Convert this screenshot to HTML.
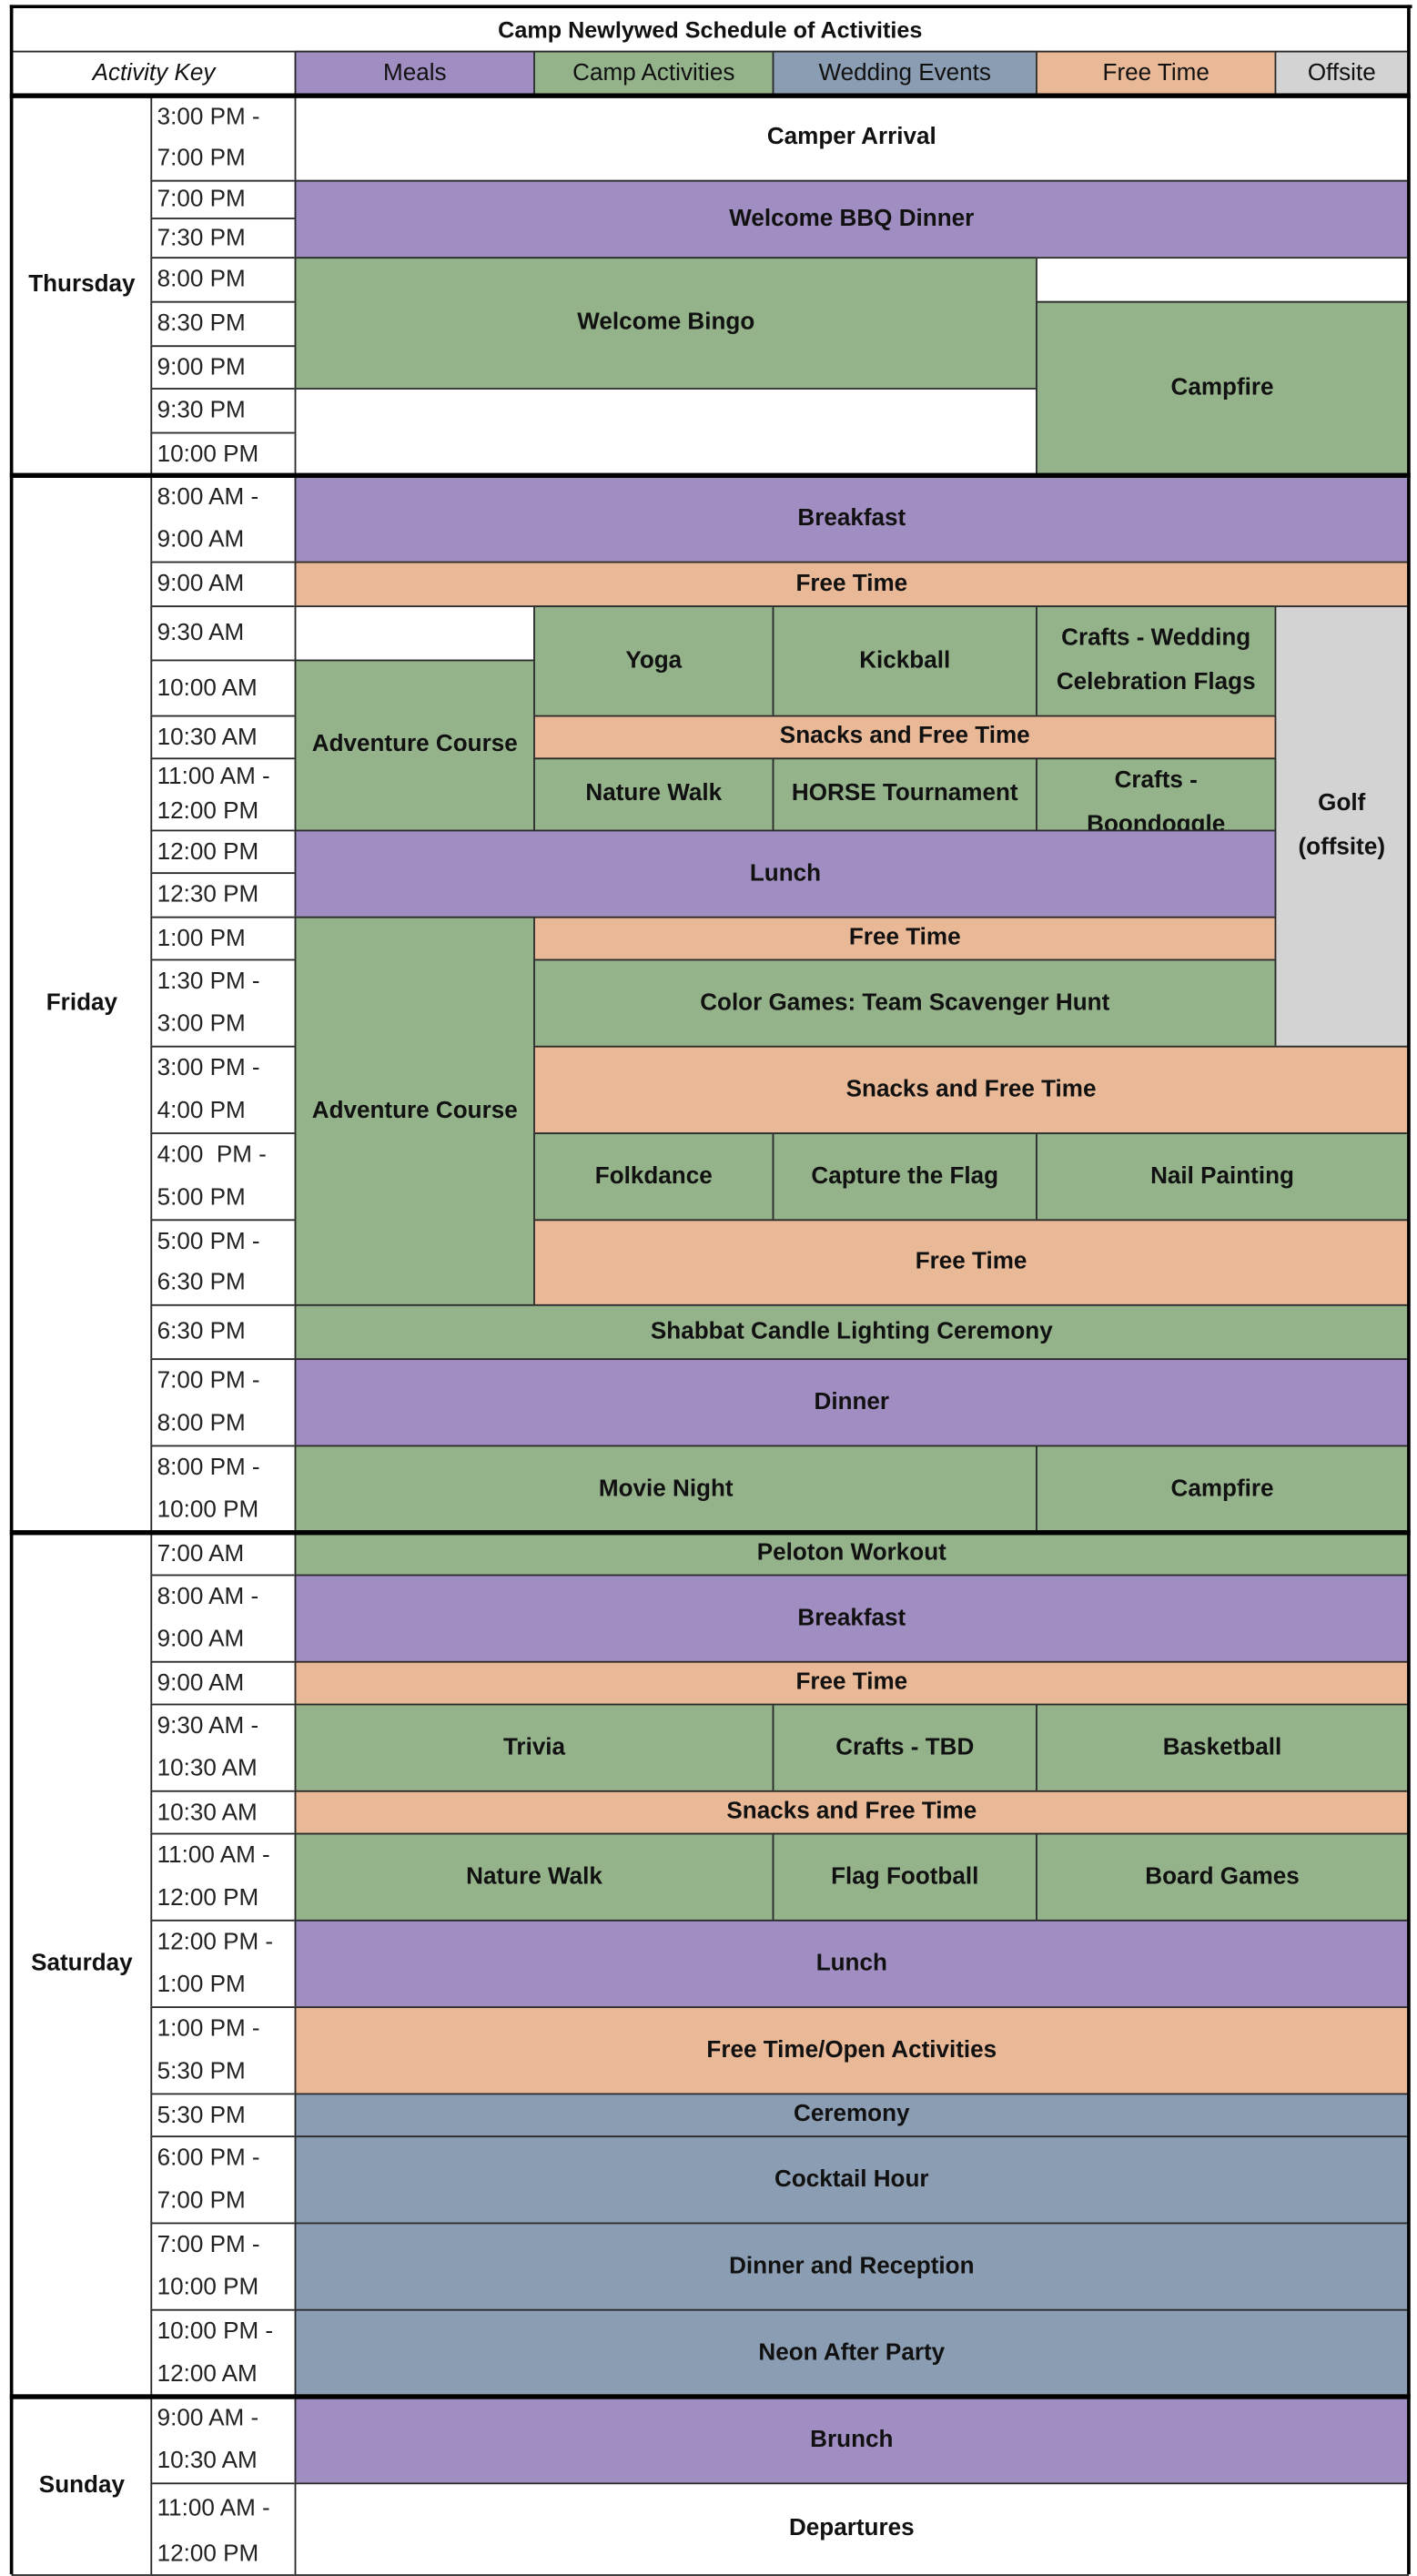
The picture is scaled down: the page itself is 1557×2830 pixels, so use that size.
<!DOCTYPE html>
<html><head><meta charset="utf-8"><style>
html,body{margin:0;padding:0;background:#fff;}
body{width:1557px;height:2812px;overflow:hidden;position:relative;}
#s{position:absolute;left:0;top:0;width:866px;height:1570px;transform:scale(1.7979);transform-origin:0 0;font-family:"Liberation Sans",sans-serif;color:#111;}
.c{position:absolute;box-sizing:border-box;border:1px solid #2a2a2a;display:flex;align-items:center;justify-content:center;text-align:center;font-size:14.5px;font-weight:bold;line-height:27px;overflow:hidden;}
.t{position:absolute;box-sizing:border-box;border:1px solid #2a2a2a;font-size:14.5px;font-weight:normal;color:#222;padding-left:3px;display:flex;flex-direction:column;justify-content:space-around;overflow:hidden;line-height:18px;background:#fff;}
.P{background:#a08ec2}.G{background:#94b38a}.B{background:#8b9db2}.O{background:#e9b896}.Y{background:#d3d3d3}.W{background:#fff}
.k{position:absolute;background:#000;}
</style></head><body><div id="s">
<!-- title/header -->
<div class="c W" style="left:7px;top:4px;width:854px;height:28px;font-weight:bold;font-size:14px">Camp Newlywed Schedule of Activities</div>
<div class="c W" style="left:7px;top:31px;width:174px;height:28px;font-style:italic;font-weight:normal">Activity Key</div>
<div class="c P" style="left:180px;top:31px;width:147px;height:28px;font-weight:normal">Meals</div>
<div class="c G" style="left:326px;top:31px;width:147px;height:28px;font-weight:normal">Camp Activities</div>
<div class="c B" style="left:472px;top:31px;width:162px;height:28px;font-weight:normal">Wedding Events</div>
<div class="c O" style="left:633px;top:31px;width:147px;height:28px;font-weight:normal">Free Time</div>
<div class="c Y" style="left:779px;top:31px;width:82px;height:28px;font-weight:normal">Offsite</div>
<!-- day cells -->
<div class="c W" style="left:7px;top:58px;width:86px;height:233px">Thursday</div>
<div class="c W" style="left:7px;top:290px;width:86px;height:647px">Friday</div>
<div class="c W" style="left:7px;top:936px;width:86px;height:529px">Saturday</div>
<div class="c W" style="left:7px;top:1464px;width:86px;height:110px">Sunday</div>
<!-- times -->
<div class="t" style="left:92px;top:58px;width:89px;height:53px"><span>3:00 PM -</span><span>7:00 PM</span></div>
<div class="t" style="left:92px;top:110px;width:89px;height:24px"><span>7:00 PM</span></div>
<div class="t" style="left:92px;top:133px;width:89px;height:25px"><span>7:30 PM</span></div>
<div class="t" style="left:92px;top:157px;width:89px;height:28px"><span>8:00 PM</span></div>
<div class="t" style="left:92px;top:184px;width:89px;height:28px"><span>8:30 PM</span></div>
<div class="t" style="left:92px;top:211px;width:89px;height:27px"><span>9:00 PM</span></div>
<div class="t" style="left:92px;top:237px;width:89px;height:28px"><span>9:30 PM</span></div>
<div class="t" style="left:92px;top:264px;width:89px;height:27px"><span>10:00 PM</span></div>
<div class="t" style="left:92px;top:290px;width:89px;height:54px"><span>8:00 AM -</span><span>9:00 AM</span></div>
<div class="t" style="left:92px;top:343px;width:89px;height:28px"><span>9:00 AM</span></div>
<div class="t" style="left:92px;top:370px;width:89px;height:34px"><span>9:30 AM</span></div>
<div class="t" style="left:92px;top:403px;width:89px;height:35px"><span>10:00 AM</span></div>
<div class="t" style="left:92px;top:437px;width:89px;height:27px"><span>10:30 AM</span></div>
<div class="t" style="left:92px;top:463px;width:89px;height:45px"><span>11:00 AM -</span><span>12:00 PM</span></div>
<div class="t" style="left:92px;top:507px;width:89px;height:27px"><span>12:00 PM</span></div>
<div class="t" style="left:92px;top:533px;width:89px;height:28px"><span>12:30 PM</span></div>
<div class="t" style="left:92px;top:560px;width:89px;height:27px"><span>1:00 PM</span></div>
<div class="t" style="left:92px;top:586px;width:89px;height:54px"><span>1:30 PM -</span><span>3:00 PM</span></div>
<div class="t" style="left:92px;top:639px;width:89px;height:54px"><span>3:00 PM -</span><span>4:00 PM</span></div>
<div class="t" style="left:92px;top:692px;width:89px;height:54px"><span>4:00&nbsp; PM -</span><span>5:00 PM</span></div>
<div class="t" style="left:92px;top:745px;width:89px;height:53px"><span>5:00 PM -</span><span>6:30 PM</span></div>
<div class="t" style="left:92px;top:797px;width:89px;height:34px"><span>6:30 PM</span></div>
<div class="t" style="left:92px;top:830px;width:89px;height:54px"><span>7:00 PM -</span><span>8:00 PM</span></div>
<div class="t" style="left:92px;top:883px;width:89px;height:54px"><span>8:00 PM -</span><span>10:00 PM</span></div>
<div class="t" style="left:92px;top:936px;width:89px;height:27px"><span>7:00 AM</span></div>
<div class="t" style="left:92px;top:962px;width:89px;height:54px"><span>8:00 AM -</span><span>9:00 AM</span></div>
<div class="t" style="left:92px;top:1015px;width:89px;height:27px"><span>9:00 AM</span></div>
<div class="t" style="left:92px;top:1041px;width:89px;height:54px"><span>9:30 AM -</span><span>10:30 AM</span></div>
<div class="t" style="left:92px;top:1094px;width:89px;height:27px"><span>10:30 AM</span></div>
<div class="t" style="left:92px;top:1120px;width:89px;height:54px"><span>11:00 AM -</span><span>12:00 PM</span></div>
<div class="t" style="left:92px;top:1173px;width:89px;height:54px"><span>12:00 PM -</span><span>1:00 PM</span></div>
<div class="t" style="left:92px;top:1226px;width:89px;height:54px"><span>1:00 PM -</span><span>5:30 PM</span></div>
<div class="t" style="left:92px;top:1279px;width:89px;height:27px"><span>5:30 PM</span></div>
<div class="t" style="left:92px;top:1305px;width:89px;height:54px"><span>6:00 PM -</span><span>7:00 PM</span></div>
<div class="t" style="left:92px;top:1358px;width:89px;height:54px"><span>7:00 PM -</span><span>10:00 PM</span></div>
<div class="t" style="left:92px;top:1411px;width:89px;height:54px"><span>10:00 PM -</span><span>12:00 AM</span></div>
<div class="t" style="left:92px;top:1464px;width:89px;height:54px"><span>9:00 AM -</span><span>10:30 AM</span></div>
<div class="t" style="left:92px;top:1517px;width:89px;height:57px;justify-content:flex-start;padding-top:6px;gap:10px"><span>11:00 AM -</span><span>12:00 PM</span></div>
<!-- Thursday events -->
<div class="c W" style="left:180px;top:58px;width:681px;height:53px">Camper Arrival</div>
<div class="c P" style="left:180px;top:110px;width:681px;height:48px">Welcome BBQ Dinner</div>
<div class="c G" style="left:180px;top:157px;width:454px;height:81px">Welcome Bingo</div>
<div class="c W" style="left:180px;top:237px;width:454px;height:54px"></div>
<div class="c W" style="left:633px;top:157px;width:228px;height:28px"></div>
<div class="c G" style="left:633px;top:184px;width:228px;height:107px">Campfire</div>
<!-- Friday -->
<div class="c P" style="left:180px;top:290px;width:681px;height:54px">Breakfast</div>
<div class="c O" style="left:180px;top:343px;width:681px;height:28px">Free Time</div>
<div class="c W" style="left:180px;top:370px;width:147px;height:34px"></div>
<div class="c G" style="left:180px;top:403px;width:147px;height:105px">Adventure Course</div>
<div class="c G" style="left:326px;top:370px;width:147px;height:68px">Yoga</div>
<div class="c G" style="left:472px;top:370px;width:162px;height:68px">Kickball</div>
<div class="c G" style="left:633px;top:370px;width:147px;height:68px">Crafts - Wedding<br>Celebration Flags</div>
<div class="c Y" style="left:779px;top:370px;width:82px;height:270px">Golf<br>(offsite)</div>
<div class="c O" style="left:326px;top:437px;width:454px;height:27px">Snacks and Free Time</div>
<div class="c G" style="left:326px;top:463px;width:147px;height:45px">Nature Walk</div>
<div class="c G" style="left:472px;top:463px;width:162px;height:45px">HORSE Tournament</div>
<div class="c G" style="left:633px;top:463px;width:147px;height:45px;align-items:flex-start;padding-top:0px">Crafts -<br>Boondoggle</div>
<div class="c P" style="left:180px;top:507px;width:600px;height:54px">Lunch</div>
<div class="c G" style="left:180px;top:560px;width:147px;height:238px">Adventure Course</div>
<div class="c O" style="left:326px;top:560px;width:454px;height:27px">Free Time</div>
<div class="c G" style="left:326px;top:586px;width:454px;height:54px">Color Games: Team Scavenger Hunt</div>
<div class="c O" style="left:326px;top:639px;width:535px;height:54px">Snacks and Free Time</div>
<div class="c G" style="left:326px;top:692px;width:147px;height:54px">Folkdance</div>
<div class="c G" style="left:472px;top:692px;width:162px;height:54px">Capture the Flag</div>
<div class="c G" style="left:633px;top:692px;width:228px;height:54px">Nail Painting</div>
<div class="c O" style="left:326px;top:745px;width:535px;height:53px">Free Time</div>
<div class="c G" style="left:180px;top:797px;width:681px;height:34px">Shabbat Candle Lighting Ceremony</div>
<div class="c P" style="left:180px;top:830px;width:681px;height:54px">Dinner</div>
<div class="c G" style="left:180px;top:883px;width:454px;height:54px">Movie Night</div>
<div class="c G" style="left:633px;top:883px;width:228px;height:54px">Campfire</div>
<!-- Saturday -->
<div class="c G" style="left:180px;top:936px;width:681px;height:27px">Peloton Workout</div>
<div class="c P" style="left:180px;top:962px;width:681px;height:54px">Breakfast</div>
<div class="c O" style="left:180px;top:1015px;width:681px;height:27px">Free Time</div>
<div class="c G" style="left:180px;top:1041px;width:293px;height:54px">Trivia</div>
<div class="c G" style="left:472px;top:1041px;width:162px;height:54px">Crafts - TBD</div>
<div class="c G" style="left:633px;top:1041px;width:228px;height:54px">Basketball</div>
<div class="c O" style="left:180px;top:1094px;width:681px;height:27px">Snacks and Free Time</div>
<div class="c G" style="left:180px;top:1120px;width:293px;height:54px">Nature Walk</div>
<div class="c G" style="left:472px;top:1120px;width:162px;height:54px">Flag Football</div>
<div class="c G" style="left:633px;top:1120px;width:228px;height:54px">Board Games</div>
<div class="c P" style="left:180px;top:1173px;width:681px;height:54px">Lunch</div>
<div class="c O" style="left:180px;top:1226px;width:681px;height:54px">Free Time/Open Activities</div>
<div class="c B" style="left:180px;top:1279px;width:681px;height:27px">Ceremony</div>
<div class="c B" style="left:180px;top:1305px;width:681px;height:54px">Cocktail Hour</div>
<div class="c B" style="left:180px;top:1358px;width:681px;height:54px">Dinner and Reception</div>
<div class="c B" style="left:180px;top:1411px;width:681px;height:54px">Neon After Party</div>
<!-- Sunday -->
<div class="c P" style="left:180px;top:1464px;width:681px;height:54px">Brunch</div>
<div class="c W" style="left:180px;top:1517px;width:681px;height:57px">Departures</div>
<!-- thick lines -->
<div class="k" style="left:6px;top:3px;width:857px;height:2px"></div>
<div class="k" style="left:6px;top:3px;width:2px;height:1570px"></div>
<div class="k" style="left:860px;top:3px;width:2px;height:1570px"></div>
<div class="k" style="left:6px;top:57px;width:856px;height:2.5px"></div>
<div class="k" style="left:6px;top:289px;width:856px;height:2.5px"></div>
<div class="k" style="left:6px;top:935px;width:856px;height:2.5px"></div>
<div class="k" style="left:6px;top:1463px;width:856px;height:2.5px"></div>
</div></body></html>
